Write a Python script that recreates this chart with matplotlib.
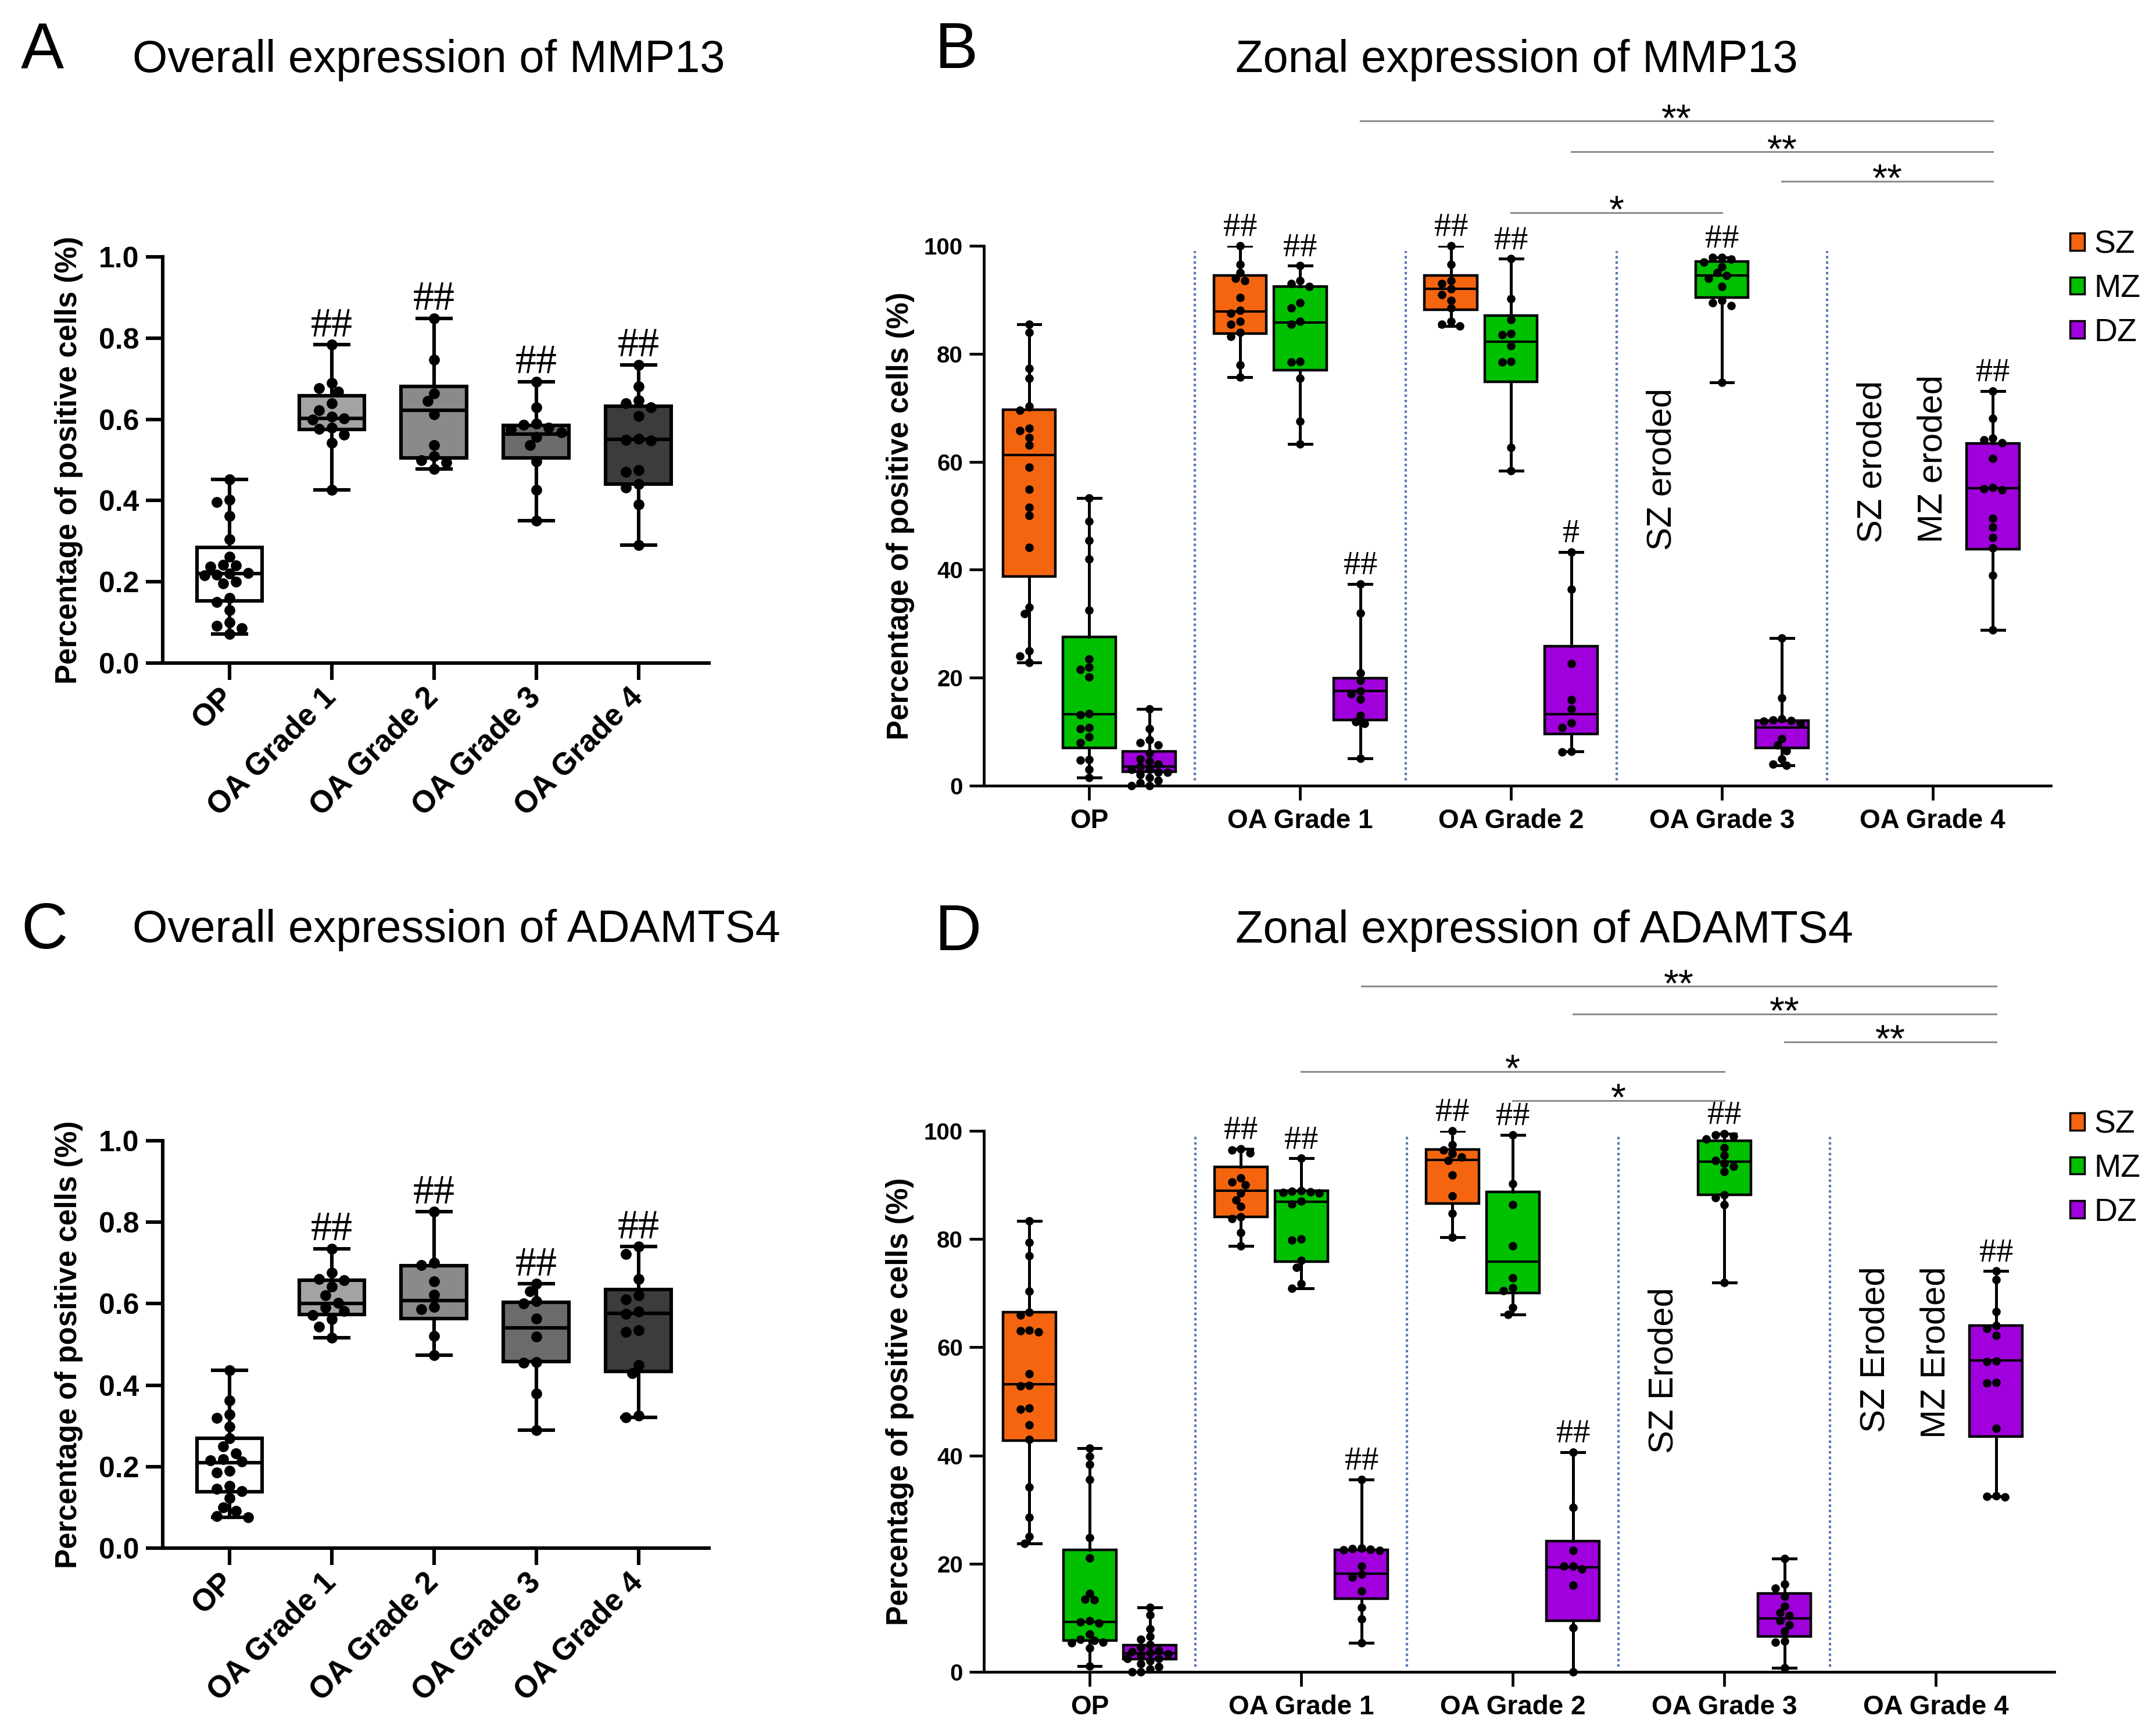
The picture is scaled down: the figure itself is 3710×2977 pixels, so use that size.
"""Zonal and overall expression of MMP13 / ADAMTS4 (four panel box plots)."""

import matplotlib
matplotlib.use("Agg")
import matplotlib.pyplot as plt
from matplotlib.patches import Patch

plt.rcParams['font.family'] = ['Liberation Sans', 'DejaVu Sans']

W, H = 3710, 2977
DPI = 100

groups = ["OP", "OA Grade 1", "OA Grade 2", "OA Grade 3", "OA Grade 4"]
zones = ["SZ", "MZ", "DZ"]
zone_colors = {"SZ": "#f5650f", "MZ": "#00c000", "DZ": "#a000dc"}
grey_fills = ["#ffffff", "#a3a3a3", "#8a8a8a", "#6b6b6b", "#3c3c3c"]

# ---------------- panel A : overall MMP13 (fraction) ----------------
A_lo = [0.071, 0.427, 0.478, 0.351, 0.290]
A_q1 = [0.153, 0.575, 0.505, 0.505, 0.441]
A_med = [0.221, 0.603, 0.622, 0.564, 0.551]
A_q3 = [0.284, 0.658, 0.681, 0.585, 0.633]
A_hi = [0.452, 0.784, 0.849, 0.693, 0.734]
A_points = [
    [0.452, 0.402, 0.396, 0.362, 0.305, 0.262, 0.242, 0.240, 0.238, 0.222, 0.220,
     0.218, 0.216, 0.200, 0.196, 0.160, 0.150, 0.130, 0.100, 0.092, 0.086, 0.071],
    [0.784, 0.690, 0.676, 0.668, 0.640, 0.622, 0.606, 0.602, 0.600, 0.580, 0.576,
     0.562, 0.542, 0.427],
    [0.849, 0.747, 0.664, 0.645, 0.612, 0.537, 0.510, 0.500, 0.494, 0.478],
    [0.693, 0.629, 0.590, 0.586, 0.580, 0.575, 0.568, 0.556, 0.537, 0.496, 0.427, 0.351],
    [0.734, 0.681, 0.646, 0.640, 0.630, 0.608, 0.552, 0.550, 0.548, 0.475, 0.470,
     0.440, 0.432, 0.390, 0.290],
]
A_marks = ["", "##", "##", "##", "##"]

# ---------------- panel C : overall ADAMTS4 (fraction) ----------------
C_lo = [0.076, 0.516, 0.474, 0.290, 0.321]
C_q1 = [0.139, 0.574, 0.563, 0.458, 0.434]
C_med = [0.209, 0.601, 0.608, 0.540, 0.577]
C_q3 = [0.269, 0.658, 0.693, 0.604, 0.635]
C_hi = [0.437, 0.735, 0.826, 0.649, 0.740]
C_points = [
    [0.437, 0.362, 0.328, 0.320, 0.298, 0.270, 0.249, 0.232, 0.218, 0.215, 0.212,
     0.190, 0.186, 0.152, 0.146, 0.140, 0.122, 0.100, 0.092, 0.078, 0.076],
    [0.735, 0.676, 0.660, 0.658, 0.642, 0.620, 0.602, 0.590, 0.582, 0.572, 0.562,
     0.544, 0.516],
    [0.826, 0.700, 0.695, 0.655, 0.622, 0.592, 0.586, 0.520, 0.474],
    [0.649, 0.630, 0.606, 0.600, 0.563, 0.519, 0.456, 0.455, 0.380, 0.290],
    [0.740, 0.722, 0.660, 0.620, 0.610, 0.580, 0.575, 0.535, 0.530, 0.450, 0.430,
     0.325, 0.321],
]
C_marks = ["", "##", "##", "##", "##"]

# ---------------- panel B : zonal MMP13 (%) ----------------
# stats per zone: (lo, q1, median, q3, hi) for each group, None = zone eroded
B_stats = {
    "SZ": [(22.8, 38.7, 61.3, 69.6, 85.5), (75.7, 83.7, 87.8, 94.5, 100.0),
           (85.1, 88.2, 92.0, 94.5, 100.0), None, None],
    "MZ": [(1.5, 7.0, 13.2, 27.6, 53.3), (63.3, 77.0, 85.8, 92.5, 96.3),
           (58.3, 74.8, 82.2, 87.1, 97.6), (74.7, 90.4, 94.5, 97.1, 97.9), None],
    "DZ": [(0.0, 2.6, 3.6, 6.3, 14.2), (5.1, 12.2, 17.5, 19.9, 37.4),
           (6.3, 9.6, 13.2, 25.8, 43.3), (3.8, 7.0, 10.8, 12.1, 27.3),
           (28.8, 43.8, 55.1, 63.4, 73.1)],
}
B_points = {
    "SZ": [[85.5, 84.0, 77.3, 75.5, 70.3, 69.5, 66.2, 65.8, 64.5, 63.1, 59.0, 54.9,
            51.6, 50.0, 44.1, 33.0, 31.9, 25.0, 24.0, 22.8],
           [100.0, 96.6, 95.1, 94.0, 93.5, 90.4, 88.0, 87.5, 86.0, 85.5, 84.0, 83.2,
            77.9, 75.7],
           [100.0, 96.6, 93.5, 93.0, 92.0, 91.0, 89.9, 88.5, 86.0, 85.5, 85.1],
           [], []],
    "MZ": [[53.3, 49.0, 45.4, 42.0, 32.5, 23.5, 22.0, 21.5, 20.1, 13.4, 13.1, 10.8,
            10.5, 9.0, 8.0, 4.8, 4.7, 3.0, 1.5],
           [96.3, 93.5, 93.0, 92.5, 89.4, 88.5, 86.0, 85.5, 78.6, 78.5, 75.5, 67.5, 63.3],
           [97.6, 90.2, 86.3, 83.7, 83.5, 81.5, 78.6, 78.5, 62.6, 58.3],
           [97.9, 97.8, 97.5, 97.0, 96.1, 95.0, 94.5, 94.0, 92.5, 89.9, 89.5, 88.9, 74.7],
           []],
    "DZ": [[14.2, 10.6, 8.5, 8.0, 7.5, 6.0, 5.0, 4.5, 4.0, 3.5, 3.0, 3.0, 2.5, 2.5,
            2.0, 1.5, 1.0, 0.5, 0.0, 0.0],
           [37.4, 32.0, 20.9, 19.5, 17.5, 17.0, 16.0, 13.0, 11.8, 11.5, 5.1],
           [43.3, 36.4, 22.6, 15.9, 14.2, 11.6, 10.8, 6.3, 6.2],
           [27.3, 16.3, 12.4, 12.2, 12.1, 12.0, 11.5, 8.7, 7.5, 6.5, 5.0, 4.0, 3.8],
           [73.1, 68.0, 64.4, 64.0, 63.5, 60.6, 55.2, 55.0, 54.8, 49.5, 47.9, 46.0,
            44.0, 39.0, 28.8]],
}
B_marks = {"SZ": ["", "##", "##", "", ""], "MZ": ["", "##", "##", "##", ""],
           "DZ": ["", "##", "#", "", "##"]}
# (group, zone, group, zone, height, label)
B_sig = [(1, "DZ", 4, "DZ", 123.1, "**"), (2, "DZ", 4, "DZ", 117.4, "**"),
         (3, "DZ", 4, "DZ", 112.0, "**"), (2, "MZ", 3, "MZ", 106.1, "*")]
# (group, zone, bottom, text)
B_eroded = [(3, "SZ", 43.6, "SZ eroded"), (4, "SZ", 45.0, "SZ eroded"),
            (4, "MZ", 45.0, "MZ eroded")]

# ---------------- panel D : zonal ADAMTS4 (%) ----------------
D_stats = {
    "SZ": [(23.7, 42.7, 53.2, 66.5, 83.4), (78.7, 84.1, 88.9, 93.3, 96.7),
           (80.3, 86.6, 94.6, 96.6, 100.0), None, None],
    "MZ": [(1.1, 5.8, 9.2, 22.6, 41.4), (70.9, 75.8, 86.9, 88.9, 94.9),
           (66.1, 70.0, 75.8, 88.7, 99.3), (72.0, 88.2, 94.3, 98.2, 99.5), None],
    "DZ": [(0.0, 2.4, 3.4, 4.9, 11.9), (5.4, 13.5, 18.1, 22.6, 35.6),
           (0.0, 9.4, 19.3, 24.2, 40.6), (0.8, 6.5, 9.9, 14.5, 20.9),
           (32.4, 43.5, 57.6, 64.0, 74.1)],
}
D_points = {
    "SZ": [[83.4, 79.4, 76.9, 70.4, 66.5, 66.0, 63.2, 63.0, 62.8, 55.1, 53.0, 52.8,
            48.8, 48.5, 45.7, 43.0, 34.2, 28.6, 25.0, 23.7],
           [96.7, 96.5, 95.9, 91.3, 90.5, 90.0, 88.5, 87.2, 86.0, 84.1, 83.8, 81.2, 78.7],
           [100.0, 97.4, 96.5, 95.8, 95.2, 94.5, 91.8, 88.0, 84.8, 80.3],
           [], []],
    "MZ": [[41.4, 39.9, 38.3, 35.5, 24.8, 21.1, 14.5, 13.4, 13.3, 9.5, 9.2, 9.0,
            7.0, 6.0, 5.8, 5.5, 5.4, 4.4, 1.1],
           [94.9, 88.9, 88.8, 88.7, 88.6, 88.5, 87.0, 86.5, 80.0, 79.8, 76.0, 74.8,
            71.7, 70.9],
           [99.3, 90.2, 86.4, 78.7, 72.8, 71.0, 70.5, 67.3, 66.1],
           [99.5, 99.2, 99.0, 98.5, 96.9, 95.5, 94.5, 94.0, 93.5, 92.5, 88.2, 87.7,
            86.4, 72.0],
           []],
    "DZ": [[11.9, 10.5, 8.0, 6.5, 6.0, 5.0, 4.5, 4.0, 3.8, 3.5, 3.3, 3.0, 2.5, 2.5,
            2.0, 1.5, 1.0, 0.5, 0.0, 0.0],
           [35.6, 22.9, 22.8, 22.7, 22.6, 22.5, 19.5, 18.0, 17.5, 14.9, 11.9, 9.8, 5.4],
           [40.6, 30.4, 22.4, 19.6, 19.5, 19.0, 16.0, 8.2, 0.0],
           [20.9, 16.2, 15.5, 14.0, 12.1, 11.0, 10.4, 9.5, 8.7, 7.5, 5.7, 5.5, 0.8],
           [74.1, 72.5, 66.6, 64.0, 63.5, 62.2, 57.5, 57.4, 53.5, 53.4, 45.0, 32.5,
            32.4, 32.3]],
}
D_marks = {"SZ": ["", "##", "##", "", ""], "MZ": ["", "##", "##", "##", ""],
           "DZ": ["", "##", "##", "", "##"]}
D_sig = [(1, "DZ", 4, "DZ", 126.7, "**"), (2, "DZ", 4, "DZ", 121.6, "**"),
         (3, "DZ", 4, "DZ", 116.4, "**"), (1, "MZ", 3, "MZ", 111.0, "*"),
         (2, "MZ", 3, "MZ", 105.6, "*")]
D_eroded = [(3, "SZ", 40.4, "SZ Eroded"), (4, "SZ", 44.3, "SZ Eroded"),
            (4, "MZ", 43.2, "MZ Eroded")]

ZONE_OFFSET = {"SZ": -0.285, "MZ": 0.0, "DZ": 0.285}


def fx(x):
    return x / W


def fy(y):
    return 1 - y / H


def swarm_x(ax, x0, vals, diam):
    """Spread points sideways so they do not overlap (pixel based)."""
    trans = ax.transData
    inv = trans.inverted()
    cx = trans.transform((x0, 0))[0]
    placed, xs = [], []
    offsets = [0]
    for i in range(1, 12):
        offsets += [-i, i]
    for v in vals:
        py = trans.transform((x0, v))[1]
        px = cx
        for off in offsets:
            px = cx + off * diam * 0.6
            if all((px - qx) ** 2 + (py - qy) ** 2 >= (diam * 0.95) ** 2
                   for qx, qy in placed):
                break
        placed.append((px, py))
        xs.append(inv.transform((px, py))[0])
    return xs


def make_stats(lo, q1, med, q3, hi):
    return dict(whislo=lo, q1=q1, med=med, q3=q3, whishi=hi, fliers=[])


def style_axes(ax, lw):
    for side in ("top", "right"):
        ax.spines[side].set_visible(False)
    for side in ("left", "bottom"):
        ax.spines[side].set_linewidth(lw)


def overall_panel(rect, lo, q1, med, q3, hi, points, marks):
    ax = fig.add_axes(rect)
    ax.set_xlim(-0.653, 4.69)
    ax.set_ylim(0, 1.0)
    style_axes(ax, 4.4)
    stats = [make_stats(*s) for s in zip(lo, q1, med, q3, hi)]
    res = ax.bxp(stats, positions=range(5), widths=0.64, capwidths=0.33,
                 patch_artist=True, showfliers=False, manage_ticks=False,
                 boxprops=dict(linewidth=4.4, edgecolor="black"),
                 whiskerprops=dict(linewidth=4.4, color="black"),
                 capprops=dict(linewidth=4.4, color="black"),
                 medianprops=dict(linewidth=4.4, color="black"))
    for box, col in zip(res["boxes"], grey_fills):
        box.set_facecolor(col)
    for i, vals in enumerate(points):
        xs = swarm_x(ax, i, vals, 18)
        ax.plot(xs, vals, "o", color="black", ms=12.5, zorder=5, clip_on=False)
        if marks[i]:
            ax.annotate(marks[i], (i, hi[i]), xytext=(0, 23), textcoords="offset points",
                        ha="center", va="center", fontsize=52,
                        family=["Liberation Serif", "DejaVu Serif"])
    ax.set_xticks(range(5))
    ax.set_xticklabels(groups, rotation=45, ha="right", va="center",
                       rotation_mode="anchor", fontsize=38, fontweight="bold")
    ax.set_yticks([0, 0.2, 0.4, 0.6, 0.8, 1.0])
    ax.set_yticklabels([f"{t:.1f}" for t in ax.get_yticks()], fontsize=36,
                       fontweight="bold")
    ax.tick_params(axis="both", length=21, width=4.4, pad=8)
    ax.tick_params(axis="x", pad=16)
    ax.set_ylabel("Percentage of positive cells (%)", fontsize=37, fontweight="bold")
    ax.yaxis.set_label_coords(-0.146, 0.5)
    return ax


def zonal_panel(rect, stats_d, points_d, marks_d, sig, eroded, legend_top):
    ax = fig.add_axes(rect)
    ax.set_xlim(-0.5, 4.56)
    ax.set_ylim(0, 100)
    style_axes(ax, 3.4)
    for sep in (0.5, 1.5, 2.5, 3.5):
        ax.plot([sep, sep], [1, 99], color="#5577b0", lw=3.0,
                linestyle=(0, (1, 1.2)), zorder=1)
    for zone in zones:
        for g in range(5):
            s = stats_d[zone][g]
            if s is None:
                continue
            pos = g + ZONE_OFFSET[zone]
            ax.bxp([make_stats(*s)], positions=[pos], widths=0.25,
                   capwidths=0.107, patch_artist=True, showfliers=False,
                   manage_ticks=False,
                   boxprops=dict(linewidth=3.2, edgecolor="black",
                                 facecolor=zone_colors[zone]),
                   whiskerprops=dict(linewidth=3.6, color="black"),
                   capprops=dict(linewidth=3.6, color="black"),
                   medianprops=dict(linewidth=3.0, color="black"))
            vals = points_d[zone][g]
            xs = swarm_x(ax, pos, vals, 13)
            ax.plot(xs, vals, "o", color="black", ms=9.5, zorder=5, clip_on=False)
            if marks_d[zone][g]:
                ax.annotate(marks_d[zone][g], (pos, s[4]), xytext=(0, 22),
                            textcoords="offset points", ha="center", va="center",
                            fontsize=42, family=["Liberation Serif", "DejaVu Serif"])
    for g1, z1, g2, z2, yv, lab in sig:
        x1 = g1 + ZONE_OFFSET[z1]
        x2 = g2 + ZONE_OFFSET[z2]
        ax.plot([x1, x2], [yv, yv], color="#8c8c8c", lw=2.2, clip_on=False)
        ax.annotate(lab, ((x1 + x2) / 2, yv), xytext=(0, -12),
                    textcoords="offset points", ha="center", va="baseline",
                    fontsize=48, annotation_clip=False)
    for g, zone, bottom, txt in eroded:
        ax.text(g + ZONE_OFFSET[zone], bottom, txt, rotation=90, ha="center",
                va="bottom", fontsize=43)
    ax.set_xticks(range(5))
    ax.set_xticklabels(groups, fontsize=33, fontweight="bold")
    ax.set_yticks(range(0, 101, 20))
    ax.set_yticklabels([str(t) for t in range(0, 101, 20)], fontsize=29,
                       fontweight="bold")
    ax.tick_params(axis="both", length=18, width=3.4, pad=8)
    ax.tick_params(axis="x", pad=10)
    ax.set_ylabel("Percentage of positive cells (%)", fontsize=37, fontweight="bold")
    ax.yaxis.set_label_coords(-0.065, 0.5)
    handles = [Patch(facecolor=zone_colors[z], edgecolor="black", linewidth=2.5)
               for z in zones]
    fig.legend(handles, zones, loc="upper left",
               bbox_to_anchor=(fx(3562), fy(legend_top)), frameon=False,
               fontsize=40, handlelength=0.45, handleheight=0.45,
               handletextpad=0.3, labelspacing=0.42, borderpad=0, borderaxespad=0)
    return ax


fig = plt.figure(figsize=(W / DPI, H / DPI), dpi=DPI)

overall_panel([fx(280), fy(1141), (1220 - 280) / W, 699 / H],
              A_lo, A_q1, A_med, A_q3, A_hi, A_points, A_marks)
overall_panel([fx(280), fy(2664), (1220 - 280) / W, 701 / H],
              C_lo, C_q1, C_med, C_q3, C_hi, C_points, C_marks)
zonal_panel([fx(1693), fy(1352), (3529 - 1693) / W, 929 / H],
            B_stats, B_points, B_marks, B_sig, B_eroded, 396)
zonal_panel([fx(1693), fy(2877), (3535 - 1693) / W, 931 / H],
            D_stats, D_points, D_marks, D_sig, D_eroded, 1910)

# panel letters and titles
fig.text(fx(36), fy(117), "A", fontsize=80, va="baseline")
fig.text(fx(228), fy(124), "Overall expression of MMP13", fontsize=56, va="baseline")
fig.text(fx(1609), fy(117), "B", fontsize=80, va="baseline")
fig.text(fx(2126), fy(124), "Zonal expression of MMP13", fontsize=56, va="baseline")
fig.text(fx(36), fy(1632), "C", fontsize=80, va="baseline")
fig.text(fx(228), fy(1621), "Overall expression of ADAMTS4", fontsize=56, va="baseline")
fig.text(fx(1609), fy(1635), "D", fontsize=80, va="baseline")
fig.text(fx(2126), fy(1622), "Zonal expression of ADAMTS4", fontsize=56, va="baseline")

fig.savefig("out.png", dpi=DPI)
